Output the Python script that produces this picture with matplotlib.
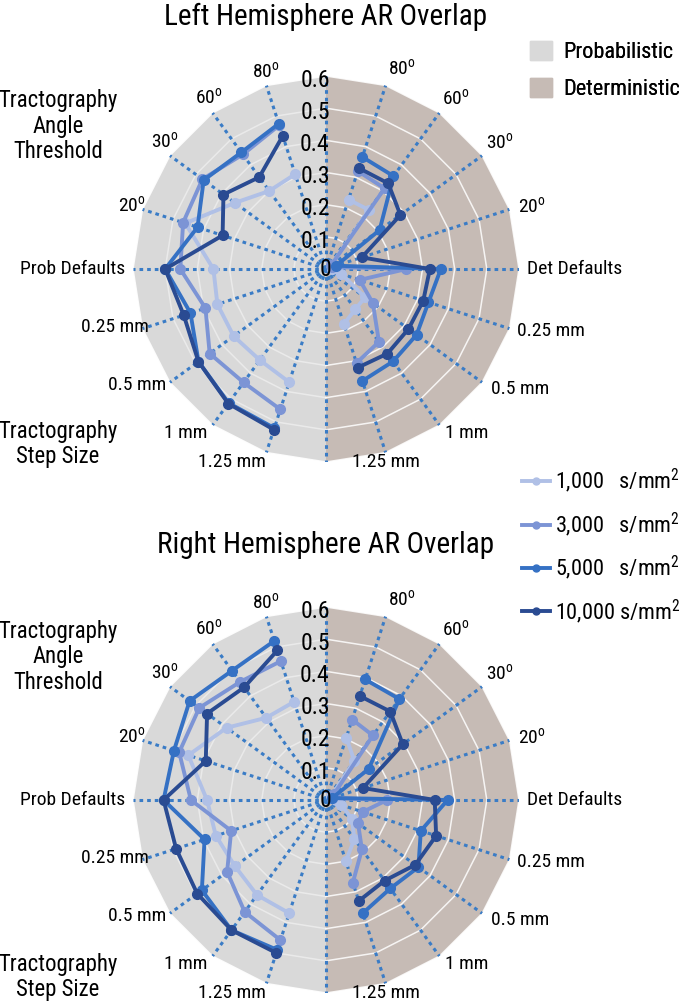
import numpy as np
import matplotlib
matplotlib.use('Agg')
import matplotlib.pyplot as plt
from matplotlib import font_manager as fm
from matplotlib.lines import Line2D
from matplotlib.patches import Patch


def pick_font(cands):
    for c in cands:
        try:
            fm.findfont(fm.FontProperties(family=c), fallback_to_default=False)
            return c
        except ValueError:
            pass
    return 'DejaVu Sans'


font = pick_font(['Liberation Sans Narrow', 'Arial Narrow', 'Roboto Condensed', 'Archivo Narrow',
                  'PT Sans Narrow', 'Pragati Narrow', 'IBM Plex Sans Condensed',
                  'Fira Sans Condensed', 'Encode Sans Condensed'])
plt.rcParams['font.family'] = [font, 'DejaVu Sans']
plt.rcParams['mathtext.fontset'] = 'custom'
plt.rcParams['mathtext.rm'] = font

# categories, clockwise on the det side / counter-clockwise on the prob side
cats = ['80$^{\\mathrm{o}}$', '60$^{\\mathrm{o}}$', '30$^{\\mathrm{o}}$', '20$^{\\mathrm{o}}$',
        'Defaults', '0.25 mm', '0.5 mm', '1 mm', '1.25 mm']
series = ['1,000', '3,000', '5,000', '10,000']
r_ticks = [0.1, 0.2, 0.3, 0.4, 0.5, 0.6]

# Left hemisphere
left_prob = [
    [0.31, 0.30, 0.35, 0.46, 0.35, 0.355, 0.355, 0.35, 0.37],
    [0.47, 0.44, 0.475, 0.467, 0.453, 0.394, 0.447, 0.436, 0.459],
    [0.475, 0.448, 0.47, 0.42, 0.50, 0.443, 0.49, 0.515, 0.52],
    [0.435, 0.353, 0.394, 0.338, 0.50, 0.465, 0.49, 0.517, 0.525],
]
left_det = [
    [0.227, 0.227, 0.02, 0.02, 0.02, 0.05, 0.15, 0.155, 0.18],
    [0.32, 0.31, 0.02, 0.02, 0.25, 0.11, 0.18, 0.28, 0.307],
    [0.366, 0.357, 0.206, 0.033, 0.357, 0.335, 0.348, 0.355, 0.366],
    [0.33, 0.329, 0.286, 0.117, 0.323, 0.318, 0.317, 0.325, 0.322],
]
# Right hemisphere
right_prob = [
    [0.321, 0.316, 0.382, 0.45, 0.37, 0.36, 0.35, 0.365, 0.37],
    [0.454, 0.454, 0.487, 0.48, 0.42, 0.31, 0.38, 0.43, 0.458],
    [0.52, 0.497, 0.524, 0.497, 0.505, 0.397, 0.477, 0.50, 0.49],
    [0.489, 0.433, 0.457, 0.393, 0.505, 0.49, 0.495, 0.50, 0.50],
]
right_det = [
    [0.204, 0.15, 0.02, 0.02, 0.03, 0.05, 0.10, 0.15, 0.20],
    [0.263, 0.248, 0.03, 0.02, 0.19, 0.12, 0.123, 0.19, 0.27],
    [0.394, 0.388, 0.164, 0.02, 0.378, 0.31, 0.355, 0.34, 0.37],
    [0.34, 0.34, 0.295, 0.121, 0.338, 0.36, 0.343, 0.31, 0.33],
]

colors = ['#b0c0e6', '#7c94d5', '#3571c4', '#2a4b92']
prob_bg = '#d9d9d9'
det_bg = '#c6bbb5'
spoke_c = '#3a7cc6'

step = np.deg2rad(18)
det_theta = step * np.arange(1, 10)
prob_theta = 2 * np.pi - det_theta
half = step * np.arange(11)

prob_lab = [('center', 'bottom', 0.61), ('center', 'bottom', 0.62), ('center', 'bottom', 0.62),
            ('center', 'center', 0.635), ('right', 'center', 0.624), ('right', 'center', 0.58),
            ('right', 'center', 0.615), ('right', 'center', 0.63), ('right', 'top', 0.6)]
det_lab = [('left', 'bottom', 0.62), ('left', 'bottom', 0.615), ('left', 'bottom', 0.615),
           ('left', 'center', 0.627), ('left', 'center', 0.624), ('left', 'center', 0.624),
           ('left', 'center', 0.635), ('left', 'center', 0.63), ('center', 'top', 0.6)]


def draw(ax, prob, det):
    ax.set_theta_zero_location('N')
    ax.set_theta_direction(-1)
    ax.set_ylim(0, 0.6)
    ax.grid(False)
    ax.set_xticks([])
    ax.set_yticks([])
    ax.spines['polar'].set_visible(False)
    ax.patch.set_visible(False)

    edge = np.r_[np.full(11, 0.6), 0]
    ax.fill(np.r_[half, 0], edge, color=det_bg, lw=0, zorder=0)
    ax.fill(np.r_[half + np.pi, 0], edge, color=prob_bg, lw=0, zorder=0)

    for r in r_ticks:
        ax.plot(half, np.full(11, r), color='white', lw=1.1, alpha=0.85, zorder=1)
        ax.plot(half + np.pi, np.full(11, r), color='white', lw=1.1,
                alpha=0.9 if r == 0.6 else 0.45, zorder=1)
    for t in step * np.arange(20):
        ax.plot([t, t], [0, 0.6], color=spoke_c, lw=2.2, ls=(0, (1.2, 1.3)), zorder=2)

    for vals, c in zip(prob, colors):
        ax.plot(prob_theta, vals, color=c, lw=2.8, marker='o', ms=7, zorder=3)
    for vals, c in zip(det, colors):
        ax.plot(det_theta, vals, color=c, lw=2.8, marker='o', ms=7, zorder=3)

    for i, name in enumerate(cats):
        ha, va, r = prob_lab[i]
        ax.text(prob_theta[i], r, 'Prob Defaults' if name == 'Defaults' else name,
                ha=ha, va=va, fontsize=14)
        ha, va, r = det_lab[i]
        ax.text(det_theta[i], r, 'Det Defaults' if name == 'Defaults' else name,
                ha=ha, va=va, fontsize=14)

    ax.text(0, 0, '0', ha='center', va='center', fontsize=17, zorder=4)
    for r in r_ticks:
        ax.annotate(f'{r:.1f}', xy=(0, r), xytext=(-8, -3), textcoords='offset points',
                    ha='center', va='center', fontsize=17, zorder=4)


fig = plt.figure(figsize=(6.85, 10.02), dpi=100)
ax1 = fig.add_axes([0.19416, 0.53892, 0.56350, 0.38523], projection='polar')
ax2 = fig.add_axes([0.19416, 0.00898, 0.56350, 0.38523], projection='polar')
draw(ax1, left_prob, left_det)
draw(ax2, right_prob, right_det)

fig.text(326 / 685, 1 - 17 / 1002, 'Left Hemisphere AR Overlap', ha='center', va='center', fontsize=21)
fig.text(326 / 685, 1 - 545 / 1002, 'Right Hemisphere AR Overlap', ha='center', va='center', fontsize=21)

for yc in (126, 657):
    fig.text(58 / 685, 1 - yc / 1002, 'Tractography\nAngle\nThreshold', ha='center', va='center',
             fontsize=16.4, linespacing=1.15)
for yc in (444, 977):
    fig.text(58 / 685, 1 - yc / 1002, 'Tractography\nStep Size', ha='center', va='center',
             fontsize=16.4, linespacing=1.15)

bg_leg = fig.legend(handles=[Patch(color=prob_bg), Patch(color=det_bg)],
                    labels=['Probabilistic', 'Deterministic'], loc='upper left',
                    bbox_to_anchor=(530 / 685, 1 - 41 / 1002), frameon=False, borderpad=0,
                    borderaxespad=0, fontsize=16, handlelength=1.0, handleheight=0.96,
                    handletextpad=0.5, labelspacing=0.66)
fig.add_artist(bg_leg)

line_handles = [Line2D([], [], color=c, lw=2.8, marker='o', ms=5) for c in colors]
line_labels = [s + '  ' * (6 - len(s)) + ' s/mm$^2$' for s in series]
fig.legend(handles=line_handles, labels=line_labels, loc='upper left',
           bbox_to_anchor=(522 / 685, 1 - 467 / 1002), frameon=False, borderpad=0,
           borderaxespad=0, fontsize=16, handlelength=1.27, handletextpad=0.22,
           labelspacing=0.68)

fig.savefig('out.png', dpi=100)
